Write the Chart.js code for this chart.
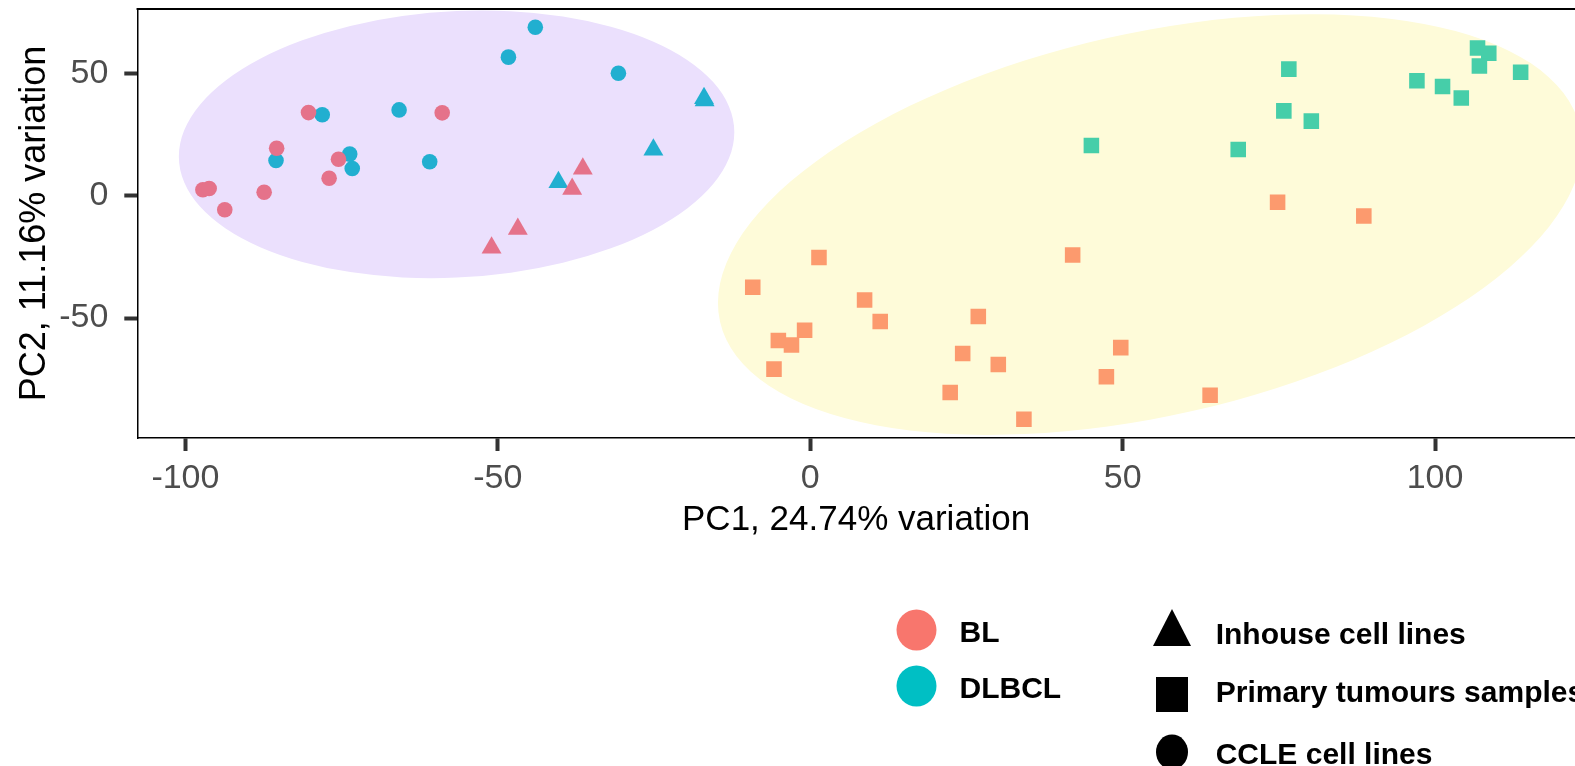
<!DOCTYPE html>
<html>
<head>
<meta charset="utf-8">
<script src="https://cdn.jsdelivr.net/npm/chart.js@4.4.1/dist/chart.umd.min.js"></script>
<style>
  html, body { margin: 0; padding: 0; background: #ffffff; overflow: hidden; }
  #wrap { width: 1575px; height: 766px; }
</style>
</head>
<body>
<div id="wrap"><canvas id="pca" width="1575" height="766"></canvas></div>
<script>
// --- data ---
const blCircleX = [-97.2, -96.2, -93.7, -87.4, -85.4, -80.3, -75.5, -77.0, -58.9];
const blCircleY = [2.5, 3.0, -5.7, 1.5, 19.5, 34.1, 15.0, 7.2, 34.0];
const dlbclCircleX = [-85.5, -78.1, -73.7, -73.3, -65.8, -60.9, -44.0, -48.3, -30.7];
const dlbclCircleY = [14.5, 33.2, 17.1, 11.2, 35.2, 14.0, 69.0, 56.8, 50.2];
const blTriangleX = [-36.4, -38.1, -46.8, -51.0];
const blTriangleY = [11.1, 2.8, -13.6, -21.2];
const dlbclTriangleX = [-17.0, -16.9, -25.1, -40.3];
const dlbclTriangleY = [40.0, 39.0, 18.9, 5.6];
const blSquareX = [1.4, -9.2, 8.7, 11.2, 26.9, -0.9, -5.1, -3.0, -5.8, 24.4, 30.1, 49.7, 47.4, 22.4, 64.0, 34.2, 42.0, 74.8, 88.6];
const blSquareY = [-25.2, -37.4, -42.6, -51.4, -49.4, -55.0, -59.2, -61.0, -70.9, -64.5, -69.0, -62.1, -74.0, -80.5, -81.6, -91.4, -24.2, -2.6, -8.2];
const dlbclSquareX = [106.8, 108.6, 107.1, 113.7, 97.1, 101.2, 104.2, 76.6, 75.8, 80.2, 45.0, 68.5];
const dlbclSquareY = [60.5, 58.4, 53.2, 50.6, 47.1, 44.8, 40.1, 51.9, 34.8, 30.6, 20.6, 19.0];

// ellipses (centre, sd along each axis, correlation), in data units
const ellipseCenterX = [-56.6, 54.37];
const ellipseCenterY = [21.1, -11.73];
const ellipseSdX = [44.45, 69.14];
const ellipseSdY = [54.77, 86.10];
const ellipseCorr = [0.0912, 0.373];
const ellipseColors = ['#EBE0FD', '#FEFBD9'];

const groupLabels = ['BL', 'DLBCL'];
const groupColors = ['#F8766D', '#00BFC4'];
const typeLabels = ['Inhouse cell lines', 'Primary tumours samples', 'CCLE cell lines'];
const typeShapes = ['triangle', 'rect', 'circle'];

const xTitle = 'PC1, 24.74% variation';
const yTitle = 'PC2, 11.16% variation';

const FONT = 'Liberation Sans, Arial, sans-serif';
Chart.defaults.font.family = FONT;

function pts(xs, ys) {
    return xs.map((v, i) => ({ x: v, y: ys[i] }));
}

const ellipsePlugin = {
    id: 'ellipses',
    beforeDatasetsDraw(chart) {
        const { ctx, chartArea, scales: { x, y } } = chart;
        const kx = x.getPixelForValue(1) - x.getPixelForValue(0);
        const ky = y.getPixelForValue(0) - y.getPixelForValue(1);
        ctx.save();
        ctx.beginPath();
        ctx.rect(chartArea.left, chartArea.top, chartArea.width, chartArea.height);
        ctx.clip();
        ellipseColors.forEach((col, i) => {
            const sx = ellipseSdX[i], sy = ellipseSdY[i], r = ellipseCorr[i];
            ctx.save();
            ctx.translate(x.getPixelForValue(ellipseCenterX[i]), y.getPixelForValue(ellipseCenterY[i]));
            ctx.transform(kx * sx, -ky * r * sy, 0, -ky * sy * Math.sqrt(1 - r * r), 0, 0);
            ctx.beginPath();
            ctx.arc(0, 0, 1, 0, 2 * Math.PI);
            ctx.restore();
            ctx.fillStyle = col;
            ctx.fill();
        });
        ctx.restore();
    }
};

const frameAndLegendPlugin = {
    id: 'frameLegend',
    afterDraw(chart) {
        const { ctx, chartArea } = chart;
        ctx.save();
        // top border of the panel
        ctx.strokeStyle = '#000';
        ctx.lineWidth = 2;
        ctx.beginPath();
        ctx.moveTo(chartArea.left - 0.75, chartArea.top);
        ctx.lineTo(chartArea.right, chartArea.top);
        ctx.stroke();

        // colour legend
        ctx.font = 'bold 30px ' + FONT;
        ctx.textBaseline = 'alphabetic';
        ctx.textAlign = 'left';
        const groupY = [630, 686];
        const groupBase = [641.7, 698.3];
        groupLabels.forEach((lab, i) => {
            ctx.fillStyle = groupColors[i];
            ctx.beginPath();
            ctx.ellipse(916.5, groupY[i], 20, 20.5, 0, 0, 2 * Math.PI);
            ctx.fill();
            ctx.fillStyle = '#000';
            ctx.fillText(lab, 959.5, groupBase[i]);
        });

        // shape legend
        const typeY = [627.5, 694.5, 752];
        const typeBase = [644, 701.7, 764];
        typeLabels.forEach((lab, i) => {
            ctx.fillStyle = '#000';
            const cx = 1172, cy = typeY[i];
            ctx.beginPath();
            if (typeShapes[i] === 'triangle') {
                ctx.moveTo(cx, cy - 18.5);
                ctx.lineTo(cx + 19, cy + 18.5);
                ctx.lineTo(cx - 19, cy + 18.5);
                ctx.closePath();
            } else if (typeShapes[i] === 'rect') {
                ctx.rect(cx - 16, cy - 17.5, 32, 35);
            } else {
                ctx.ellipse(cx, cy, 16, 17.5, 0, 0, 2 * Math.PI);
            }
            ctx.fill();
            ctx.fillText(lab, 1215.7, typeBase[i]);
        });
        ctx.restore();
    }
};

function ds(xs, ys, color, style, radius) {
    return {
        data: pts(xs, ys),
        backgroundColor: color,
        borderWidth: 0,
        pointStyle: style,
        pointRadius: radius,
        pointHoverRadius: radius
    };
}

new Chart(document.getElementById('pca'), {
    type: 'scatter',
    data: {
        datasets: [
            ds(blCircleX, blCircleY, '#E5728A', 'circle', 7.8),
            ds(dlbclCircleX, dlbclCircleY, '#21AFD0', 'circle', 7.8),
            ds(blTriangleX, blTriangleY, '#E5728A', 'triangle', 11.5),
            ds(dlbclTriangleX, dlbclTriangleY, '#21AFD0', 'triangle', 11.5),
            ds(blSquareX, blSquareY, '#FC9A6E', 'rect', 11),
            ds(dlbclSquareX, dlbclSquareY, '#46CEA9', 'rect', 11)
        ]
    },
    options: {
        responsive: false,
        animation: false,
        events: [],
        devicePixelRatio: 1,
        layout: { autoPadding: false, padding: { top: 9, right: 0, bottom: 225, left: 0 } },
        plugins: {
            legend: { display: false },
            tooltip: { enabled: false }
        },
        scales: {
            x: {
                type: 'linear',
                min: -107.7,
                max: 122.4,
                afterFit(scale) {
                    scale.height = 103;
                    scale.paddingLeft = 0;
                    scale.paddingRight = 0;
                },
                ticks: {
                    stepSize: 50,
                    includeBounds: false,
                    color: '#4D4D4D',
                    font: { size: 34 },
                    padding: 7,
                    maxRotation: 0
                },
                grid: {
                    display: true,
                    drawOnChartArea: false,
                    drawTicks: true,
                    tickLength: 13,
                    tickWidth: 4,
                    tickColor: '#333333'
                },
                border: { display: true, color: '#000', width: 1.5 },
                title: {
                    display: true,
                    text: xTitle,
                    color: '#000',
                    font: { size: 35 },
                    padding: { top: 0, bottom: 0 }
                }
            },
            y: {
                type: 'linear',
                min: -99.1,
                max: 76.5,
                afterFit(scale) {
                    scale.width = 137.3;
                    scale.paddingTop = 0;
                    scale.paddingBottom = 0;
                },
                ticks: {
                    stepSize: 50,
                    includeBounds: false,
                    color: '#4D4D4D',
                    font: { size: 34 },
                    padding: 16
                },
                grid: {
                    display: true,
                    drawOnChartArea: false,
                    drawTicks: true,
                    tickLength: 13,
                    tickWidth: 4,
                    tickColor: '#333333'
                },
                border: { display: true, color: '#000', width: 1.5 },
                title: {
                    display: true,
                    text: yTitle,
                    color: '#000',
                    font: { size: 36 },
                    padding: { top: 13.5, bottom: 0 }
                }
            }
        }
    },
    plugins: [ellipsePlugin, frameAndLegendPlugin]
});
</script>
</body>
</html>
